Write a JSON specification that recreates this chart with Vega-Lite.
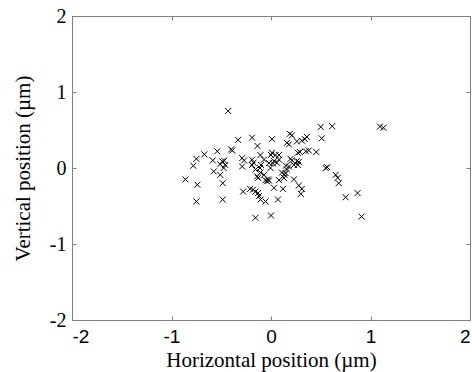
{
  "$schema": "https://vega.github.io/schema/vega-lite/v6.json",
  "width": 398,
  "height": 304,
  "autosize": {"type": "none"},
  "padding": {"left": 72, "top": 16, "right": 2, "bottom": 52},
  "background": "white",
  "config": {
    "view": {"stroke": "#7f7f7f", "strokeWidth": 1},
    "axis": {
      "grid": false,
      "domain": false,
      "tickColor": "#7f7f7f",
      "tickSize": 4,
      "labelColor": "black",
      "titleColor": "black",
      "titleFont": "Liberation Serif",
      "titleFontSize": 21,
      "titleFontWeight": "normal",
      "labelExpr": "'' + datum.value"
    }
  },
  "data": {
    "values": [
      {"x": -0.43, "y": 0.75}, {"x": -0.86, "y": -0.15}, {"x": -0.78, "y": 0.03}, {"x": -0.75, "y": 0.12},
      {"x": -0.74, "y": -0.22}, {"x": -0.75, "y": -0.44}, {"x": -0.67, "y": 0.18}, {"x": -0.54, "y": 0.22},
      {"x": -0.585, "y": 0.1}, {"x": -0.575, "y": -0.045}, {"x": -0.51, "y": 0.05}, {"x": -0.51, "y": -0.09},
      {"x": -0.485, "y": -0.2}, {"x": -0.485, "y": -0.415}, {"x": -0.49, "y": 0.087}, {"x": -0.47, "y": 0.096},
      {"x": -0.46, "y": 0.04}, {"x": -0.475, "y": 0.0}, {"x": -0.4, "y": 0.245}, {"x": -0.39, "y": 0.23},
      {"x": -0.33, "y": 0.37}, {"x": -0.29, "y": 0.13}, {"x": -0.27, "y": 0.1}, {"x": -0.29, "y": 0.02},
      {"x": -0.28, "y": -0.31}, {"x": -0.21, "y": -0.275}, {"x": -0.18, "y": -0.285}, {"x": -0.19, "y": 0.4},
      {"x": -0.19, "y": 0.11}, {"x": -0.176, "y": 0.07}, {"x": -0.19, "y": 0.04}, {"x": -0.156, "y": -0.02},
      {"x": -0.136, "y": 0.29}, {"x": -0.14, "y": -0.11}, {"x": -0.13, "y": -0.13}, {"x": -0.156, "y": -0.31},
      {"x": -0.13, "y": -0.33}, {"x": -0.12, "y": -0.37}, {"x": -0.106, "y": -0.415}, {"x": -0.055, "y": -0.44},
      {"x": -0.156, "y": -0.655}, {"x": -0.106, "y": 0.17}, {"x": -0.1, "y": 0.04}, {"x": -0.11, "y": 0.0},
      {"x": -0.07, "y": -0.09}, {"x": -0.106, "y": -0.06}, {"x": -0.055, "y": -0.16}, {"x": -0.04, "y": -0.175},
      {"x": -0.03, "y": -0.15}, {"x": -0.02, "y": -0.165}, {"x": -0.07, "y": 0.11}, {"x": -0.02, "y": 0.065},
      {"x": -0.005, "y": 0.0}, {"x": 0.0, "y": -0.625}, {"x": 0.01, "y": 0.38}, {"x": 0.01, "y": 0.2},
      {"x": 0.045, "y": 0.17}, {"x": 0.08, "y": 0.17}, {"x": 0.03, "y": 0.09}, {"x": 0.06, "y": 0.07},
      {"x": 0.15, "y": 0.03}, {"x": 0.16, "y": -0.02}, {"x": 0.03, "y": -0.26}, {"x": 0.08, "y": -0.16},
      {"x": 0.13, "y": -0.13}, {"x": 0.146, "y": -0.066}, {"x": 0.11, "y": -0.06}, {"x": 0.136, "y": -0.09},
      {"x": 0.18, "y": 0.02}, {"x": 0.23, "y": 0.04}, {"x": 0.26, "y": 0.09}, {"x": 0.12, "y": -0.275},
      {"x": 0.23, "y": -0.15}, {"x": 0.28, "y": -0.23}, {"x": 0.31, "y": -0.275}, {"x": 0.3, "y": -0.34},
      {"x": 0.07, "y": -0.415}, {"x": 0.19, "y": 0.45}, {"x": 0.21, "y": 0.43}, {"x": 0.16, "y": 0.33},
      {"x": 0.18, "y": 0.31}, {"x": 0.26, "y": 0.35}, {"x": 0.31, "y": 0.36}, {"x": 0.34, "y": 0.38},
      {"x": 0.36, "y": 0.41}, {"x": 0.27, "y": 0.2}, {"x": 0.29, "y": 0.21}, {"x": 0.35, "y": 0.22},
      {"x": 0.38, "y": 0.23}, {"x": 0.455, "y": 0.21}, {"x": 0.196, "y": 0.12}, {"x": 0.21, "y": 0.1},
      {"x": 0.28, "y": 0.08}, {"x": 0.27, "y": 0.04}, {"x": 0.5, "y": 0.54}, {"x": 0.615, "y": 0.55},
      {"x": 0.51, "y": 0.39}, {"x": 0.55, "y": 0.0}, {"x": 0.565, "y": 0.01}, {"x": 0.65, "y": -0.09},
      {"x": 0.67, "y": -0.13}, {"x": 0.68, "y": -0.2}, {"x": 0.75, "y": -0.385}, {"x": 0.87, "y": -0.33},
      {"x": 0.91, "y": -0.64}, {"x": 1.095, "y": 0.545}, {"x": 1.13, "y": 0.53}, {"x": 0.0, "y": 0.17},
      {"x": 0.02, "y": 0.06}, {"x": 0.08, "y": 0.11}
    ]
  },
  "layer": [
    {
      "mark": {"type": "point", "shape": "M-1,-1L1,1M1,-1L-1,1", "size": 36, "filled": false, "stroke": "black", "strokeWidth": 1, "opacity": 1},
      "encoding": {
        "x": {"field": "x", "type": "quantitative", "scale": {"domain": [-2, 2], "nice": false},
          "axis": {"orient": "bottom", "values": [-2, -1, 0, 1, 2], "title": "Horizontal position (µm)", "ticks": false,
            "labelFont": "Liberation Sans", "labelFontSize": 19, "labelPadding": 7, "titlePadding": 3}},
        "y": {"field": "y", "type": "quantitative", "scale": {"domain": [-2, 2], "nice": false},
          "axis": {"orient": "left", "values": [-2, -1, 0, 1, 2], "title": "Vertical position (µm)", "ticks": false,
            "labelFont": "Liberation Serif", "labelFontSize": 20, "labelPadding": 6, "titlePadding": 16}}
      }
    },
    {
      "mark": {"type": "point", "opacity": 0},
      "encoding": {
        "x": {"field": "x", "type": "quantitative", "scale": {"domain": [-2, 2], "nice": false},
          "axis": {"orient": "top", "offset": -304, "values": [-2, -1, 0, 1, 2], "labels": false, "title": null}},
        "y": {"field": "y", "type": "quantitative", "scale": {"domain": [-2, 2], "nice": false},
          "axis": {"orient": "right", "offset": -398, "values": [-2, -1, 0, 1, 2], "labels": false, "title": null}}
      }
    },
    {
      "mark": {"type": "point", "opacity": 0},
      "encoding": {
        "x": {"field": "x", "type": "quantitative", "scale": {"domain": [-2, 2], "nice": false},
          "axis": {"orient": "bottom", "offset": -304, "values": [-2, -1, 0, 1, 2], "labels": false, "title": null}},
        "y": {"field": "y", "type": "quantitative", "scale": {"domain": [-2, 2], "nice": false},
          "axis": {"orient": "left", "offset": -398, "values": [-2, -1, 0, 1, 2], "labels": false, "title": null}}
      }
    }
  ],
  "resolve": {"axis": {"x": "independent", "y": "independent"}}
}
